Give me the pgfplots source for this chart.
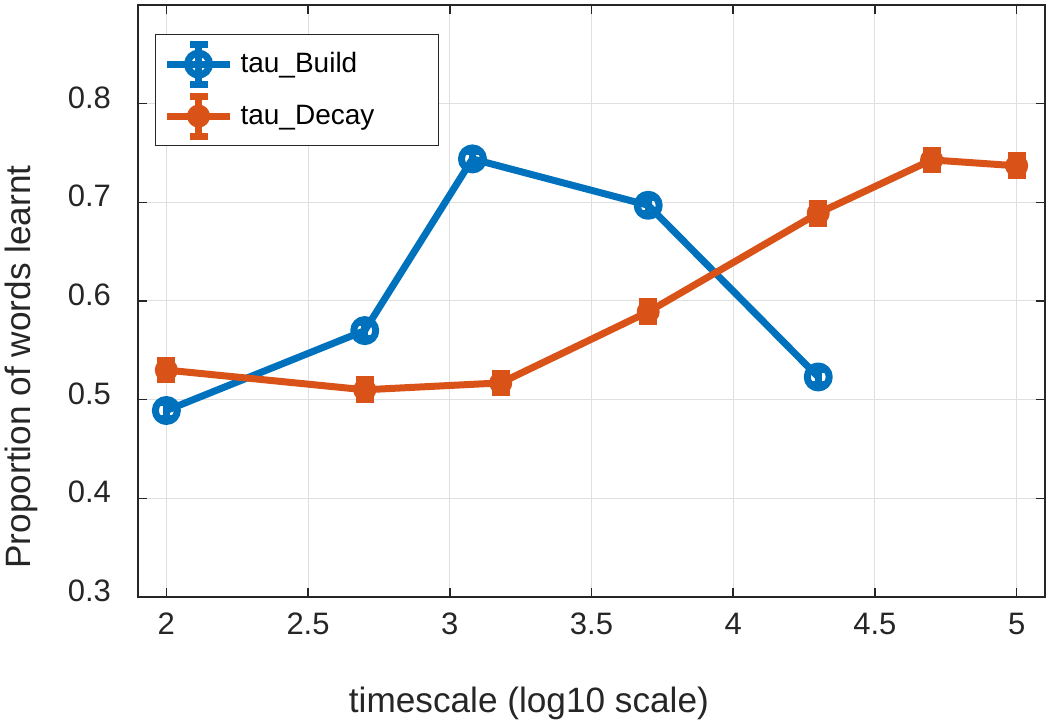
\documentclass[border=0pt]{standalone}
\usepackage{fontspec}
\setmainfont{Liberation Sans}
\usepackage{pgfplots}
\pgfplotsset{compat=1.18}
\usepackage{pgfplotstable}

\definecolor{mblue}{RGB}{0,114,189}
\definecolor{morange}{RGB}{217,83,25}
\definecolor{axgray}{RGB}{38,38,38}
\definecolor{gridgray}{RGB}{223,223,223}

% x = log10 timescale, y = proportion learnt, e = error
\pgfplotstableread{
x     y      e
2     0.489  0.008
2.7   0.570  0.008
3.08  0.744  0.008
3.7   0.697  0.008
4.3   0.523  0.008
}\build

\pgfplotstableread{
x     y      e
2     0.530  0.010
2.7   0.510  0.010
3.18  0.517  0.010
3.7   0.589  0.010
4.3   0.689  0.010
4.7   0.743  0.010
5     0.737  0.010
}\decay

\begin{document}
\begin{tikzpicture}
\useasboundingbox (-69pt,-62pt) rectangle (456pt,298.5pt);
\begin{axis}[
    scale only axis,
    width=453.5pt, height=296pt,
    xmin=1.9, xmax=5.1, ymin=0.3, ymax=0.9,
    xtick={2,2.5,3,3.5,4,4.5,5},
    ytick={0.3,0.4,0.5,0.6,0.7,0.8},
    xtick pos=both, ytick pos=both,
    tick align=inside, major tick length=4.5pt,
    grid=major, grid style={gridgray, line width=0.5pt},
    axis line style={axgray, line width=0.8pt},
    tick style={axgray, line width=0.8pt},
    /pgf/number format/assume math mode=true,
    ticklabel style={font=\fontsize{15.5}{18}\selectfont, text=axgray},
    xticklabel style={yshift=-4.5pt},
    yticklabel style={xshift=-10pt, yshift=3pt},
    xlabel={timescale (log10 scale)},
    ylabel={Proportion of words learnt},
    label style={font=\fontsize{17.6}{20}\selectfont, text=axgray},
    x label style={at={(rel axis cs:0.431,-0.179)}, anchor=center},
    y label style={at={(rel axis cs:-0.129,0.3885)}, anchor=center},
    legend cell align=left,
    legend style={at={(rel axis cs:0.0187,0.951)}, anchor=north west,
        draw=axgray, line width=0.6pt, fill=white,
        inner xsep=4pt, inner ysep=3pt, row sep=2.5pt,
        font=\fontsize{14}{16}\selectfont, text=black,
        nodes={inner sep=0pt},
        /tikz/every odd column/.append style={column sep=3.5pt}},
    legend image code/.code={
        \draw[line width=3.5pt] (0pt,0pt) -- (31.5pt,0pt);
        \draw[line width=3.5pt] (15.75pt,-10pt) -- (15.75pt,10pt)
            (11.25pt,10pt) -- (20.25pt,10pt) (11.25pt,-10pt) -- (20.25pt,-10pt);
        \draw plot[only marks] coordinates {(15.75pt,0pt)};
    },
    every axis plot/.append style={line width=3.5pt, line join=round},
]
\addplot[mblue, mark=o, mark size=5.5pt, mark options={solid, line width=3.5pt},
    error bars/.cd, y dir=both, y explicit,
    error bar style={line width=3.5pt},
    error mark options={rotate=90, mark size=4.25pt, line width=3.5pt}]
    table[x=x, y=y, y error=e] {\build};
\addlegendentry{\makebox[95pt][l]{tau\_Build}}

\addplot[morange, mark=*, mark size=4pt, mark options={solid, fill=morange},
    error bars/.cd, y dir=both, y explicit,
    error bar style={line width=3.5pt},
    error mark options={rotate=90, mark size=4.5pt, line width=3.5pt}]
    table[x=x, y=y, y error=e] {\decay};
\addlegendentry{\makebox[95pt][l]{tau\_Decay}}
\end{axis}
\end{tikzpicture}
\end{document}
